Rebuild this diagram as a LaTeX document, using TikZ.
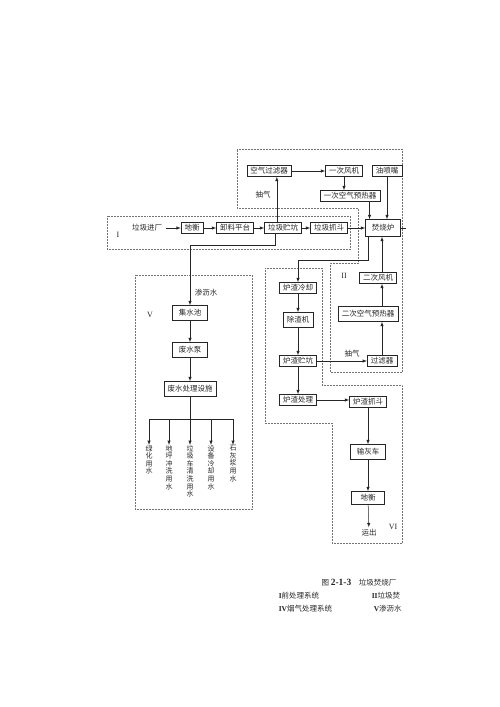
\documentclass[tikz,border=0pt]{standalone}
\usepackage{fontspec}
\setmainfont{Noto Sans CJK SC}
\newfontfamily\romanfont{Liberation Serif}

\begin{document}
\begin{tikzpicture}[x=1pt,y=-1pt,color=black!85,line width=0.5pt,every path/.style={>=latex},
  every node/.style={draw,rectangle,inner xsep=3.5pt,inner ysep=1pt,minimum height=11pt,font=\fontsize{7.5}{8}\selectfont},
  tall/.style={minimum height=15pt},
  region/.style={draw=black!55,densely dotted},
  vtext/.style={draw=none,anchor=north,align=center,inner sep=0pt,minimum height=0pt,font=\fontsize{7}{7.6}\selectfont},
  numeral/.style={draw=none,font=\fontsize{8}{8}\romanfont}]
\useasboundingbox (0,0) rectangle (500,707);
\draw[region] (107,216) rectangle (350,249);
\draw[region] (237,149) -- (402,149) -- (402,372) -- (330,372) -- (330,263) -- (358,263) -- (358,208) -- (237,208) -- cycle;
\draw[region] (265,268) -- (322,268) -- (322,385) -- (402,385) -- (402,543) -- (332,543) -- (332,423) -- (265,423) -- cycle;
\draw[region] (135,275) rectangle (252,509);
\node[numeral]        (n1)    at (118,235) {I};
\node[numeral]        (n2)    at (344,276) {II};
\node[numeral]        (n5)    at (150,315) {V};
\node[numeral]        (n6)    at (393,527) {VI};
\node[draw=none]      (ljjc)  at (147,228) {垃圾进厂};
\node                 (dh1)   at (192,228) {地衡};
\node                 (xlpt)  at (235,228) {卸料平台};
\node                 (ljzk)  at (283,228) {垃圾贮坑};
\node                 (ljzd)  at (329,228) {垃圾抓斗};
\node[minimum width=35pt,minimum height=17pt] (fsl) at (383,228) {焚烧炉};
\coordinate           (yq)    at (406,228);
\node                 (kqglq) at (269,171) {空气过滤器};
\node                 (ycfj)  at (344,171) {一次风机};
\node                 (ypz)   at (387,171) {油喷嘴};
\node                 (ycyrq) at (350,196) {一次空气预热器};
\node[draw=none]      (cq1)   at (263,195) {抽气};
\node                 (efj)   at (378,278) {二次风机};
\node[tall]           (eyrq)  at (368,314) {二次空气预热器};
\node                 (glq)   at (382,361) {过滤器};
\node[draw=none]      (cq2)   at (352,354) {抽气};
\node                 (lzlq)  at (298,288) {炉渣冷却};
\node[tall]           (czj)   at (298,320) {除渣机};
\node                 (lzzk)  at (298,361) {炉渣贮坑};
\node                 (lzcl)  at (298,400) {炉渣处理};
\node                 (lzzd)  at (368,402) {炉渣抓斗};
\node[tall,minimum width=35pt] (shc) at (368,452) {输灰车};
\node[minimum width=33pt,minimum height=13pt] (dh2) at (368,498) {地衡};
\node[draw=none]      (yc)    at (369,533) {运出};
\node[draw=none]      (slt)   at (206,293) {渗沥水};
\node[tall,minimum width=35pt] (jsc) at (190,313) {集水池};
\node[tall,minimum width=35pt] (fsb) at (190,350) {废水泵};
\node[tall]           (fwcl)  at (190,389) {废水处理设施};
\node[vtext]          (u1)    at (149,445) {绿\\化\\用\\水};
\node[vtext]          (u2)    at (169,445) {地\\坪\\冲\\洗\\用\\水};
\node[vtext]          (u3)    at (190,445) {垃\\圾\\车\\清\\洗\\用\\水};
\node[vtext]          (u4)    at (211,445) {设\\备\\冷\\却\\用\\水};
\node[vtext]          (u5)    at (233,445) {石\\灰\\浆\\用\\水};
\node[draw=none]      (cap)   at (359,583) {图 {\fontsize{9.5}{10}\romanfont\bfseries 2-1-3}\quad 垃圾焚烧厂};
\node[draw=none,anchor=west] (lg1) at (275,596) {{\romanfont\bfseries I}前处理系统};
\node[draw=none,anchor=west] (lg2) at (368,596) {{\romanfont\bfseries II}垃圾焚};
\node[draw=none,anchor=west] (lg4) at (275,609) {{\romanfont\bfseries IV}烟气处理系统};
\node[draw=none,anchor=west] (lg5) at (370,609) {{\romanfont\bfseries V}渗沥水};
\draw[->] (ljjc) edge (dh1);
\draw[->] (dh1) edge (xlpt);
\draw[->] (xlpt) edge (ljzk);
\draw[->] (ljzk) edge (ljzd);
\draw[->] (ljzd) edge (fsl);
\draw     (fsl) -- (yq);
\draw[->] (kqglq) edge (ycfj);
\draw[->] (ycfj) edge (ycfj |- ycyrq.north);
\draw[->] (ycyrq.south -| fsl.147) -- (fsl.147);
\draw[->] (ypz) edge (ypz |- fsl.north);
\draw[->] (ljzk.137) -- (ljzk.137 |- kqglq.south);
\draw[->] (ljzk.-145) -- ++(0,11) -| (jsc.north);
\draw[->] (fsl.-150) -- ++(0,23) -| (lzlq.north);
\draw[->] (glq) edge (glq |- eyrq.south);
\draw[->] (glq |- eyrq.north) -- (glq |- efj.south);
\draw[->] (glq |- efj.north) -- (glq |- fsl.south);
\draw[->] (lzzk) edge (glq);
\draw[->] (lzlq) edge (czj);
\draw[->] (czj) edge (lzzk);
\draw[->] (lzzk) edge (lzcl);
\draw[->] (lzcl) edge (lzcl -| lzzd.west);
\draw[->] (lzzd) edge (shc);
\draw[->] (shc) edge (dh2);
\draw[->] (dh2) edge (yc);
\draw[->] (jsc) edge (fsb);
\draw[->] (fsb) edge (fwcl);
\draw     (fwcl.south) -- ++(0,22) coordinate (br);
\draw     (u1.north |- br) -- (u5.north |- br);
\foreach \n in {1,...,5}
  \draw[->] (u\n.north |- br) -- (u\n.north);
\end{tikzpicture}
\end{document}
